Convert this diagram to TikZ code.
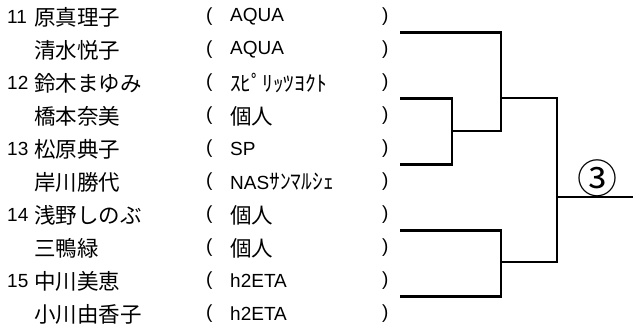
\documentclass[tikz,border=0pt]{standalone}
\usepackage{fontspec}
\setmainfont{Liberation Sans}
\newfontfamily\cjk{Noto Sans CJK JP}
\usepackage{tikz}

\begin{document}
\begin{tikzpicture}[x=1pt,y=-1pt,
    txt/.style={anchor=west,inner sep=0pt,font=\fontsize{19}{22}\selectfont},
    jp/.style={txt,font=\cjk\fontsize{21.5}{24}\selectfont},
    bracket/.style={line width=2.8pt,line cap=rect}]
  \useasboundingbox (0,0) rectangle (633,327);

  % numbers
  \node[txt] (k11) at (7,17) {11};
  \node[txt] (k12) at (7,83) {12};
  \node[txt] (k13) at (7,149) {13};
  \node[txt] (k14) at (7,215) {14};
  \node[txt] (k15) at (7,281) {15};

  % names
  \node[jp] (n1) at (34,17) {原真理子};
  \node[jp] (n2) at (34,50) {清水悦子};
  \node[jp] (n3) at (34,83) {鈴木まゆみ};
  \node[jp] (n4) at (34,116) {橋本奈美};
  \node[jp] (n5) at (34,149) {松原典子};
  \node[jp] (n6) at (34,182) {岸川勝代};
  \node[jp] (n7) at (34,215) {浅野しのぶ};
  \node[jp] (n8) at (34,248) {三鴨緑};
  \node[jp] (n9) at (34,281) {中川美恵};
  \node[jp] (n10) at (34,314) {小川由香子};

  % clubs
  \node[txt] (c1) at (230,17) {AQUA};
  \node[txt] (c2) at (230,50) {AQUA};
  \node[jp] (c3) at (230,83) {ｽﾋﾟﾘｯﾂﾖｸﾄ};
  \node[jp] (c4) at (230,116) {個人};
  \node[txt] (c5) at (230,149) {SP};
  \node[txt] (c6) at (230,182) {NAS{\cjk\fontsize{21.5}{24}\selectfont ｻﾝﾏﾙｼｪ}};
  \node[jp] (c7) at (230,215) {個人};
  \node[jp] (c8) at (230,248) {個人};
  \node[txt] (c9) at (230,281) {h2ETA};
  \node[txt] (c10) at (230,314) {h2ETA};

  \foreach \i in {1,...,10} {
    \node[txt] (l\i) at (206,{17+33*(\i-1)}) {(};
    \node[txt] (r\i) at (382,{17+33*(\i-1)}) {)};
  }

  % bracket
  \coordinate (p11) at (401,32.5);
  \coordinate (p12) at (401,98.5);
  \coordinate (p13) at (401,164.5);
  \coordinate (p14) at (401,230.5);
  \coordinate (p15) at (401,296.5);
  \coordinate (w1213) at (452,131);
  \coordinate (wtop) at (501,98);
  \coordinate (wbot) at (501,262);
  \coordinate (fin) at (557,197);
  \coordinate (out) at (632,197);

  \draw[bracket] (p12) -| (w1213) |- (p13);
  \draw[bracket] (p11) -| (wtop) |- (w1213);
  \draw[bracket] (p14) -| (wbot) |- (p15);
  \draw[bracket] (wtop) -| (fin) |- (wbot);
  \draw[bracket] (fin) -- (out);

  \node[font=\cjk\fontsize{40}{42}\selectfont,inner sep=0pt] (res) at (597,178) {③};
\end{tikzpicture}
\end{document}
